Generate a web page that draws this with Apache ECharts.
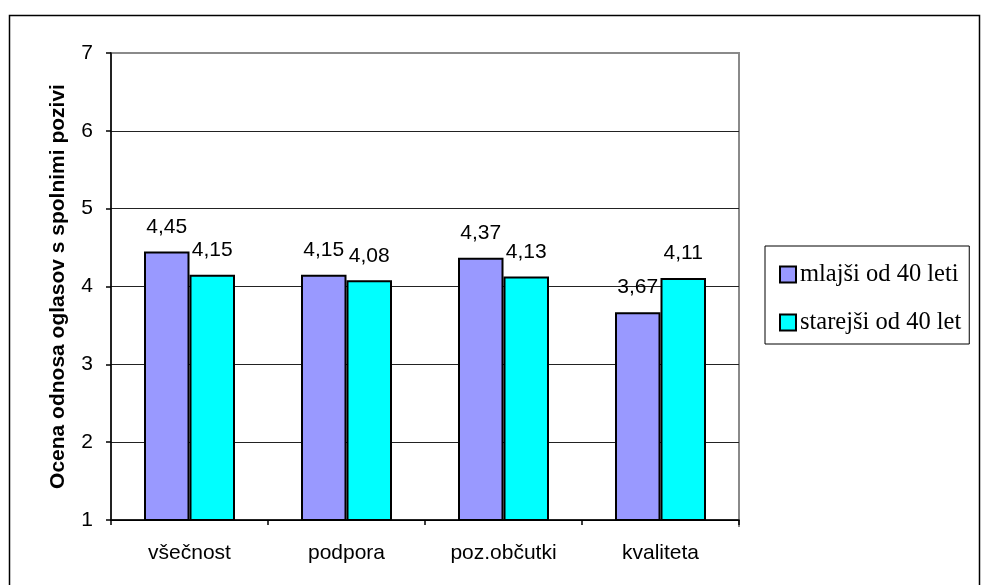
<!DOCTYPE html>
<html>
<head>
<meta charset="utf-8">
<script src="https://cdn.jsdelivr.net/npm/echarts@6/dist/echarts.min.js"></script>
<style>
  html, body { margin: 0; padding: 0; background: #fff; }
  #chart { width: 981px; height: 585px; }
</style>
</head>
<body>
<div id="chart"></div>
<script>
// Categories and series values
const categories = ['všečnost', 'podpora', 'poz.občutki', 'kvaliteta'];
const seriesNames = ['mlajši od 40 leti', 'starejši od 40 let'];
const younger = [4.45, 4.15, 4.37, 3.67];
const older = [4.15, 4.08, 4.13, 4.11];
const yTicks = [1, 2, 3, 4, 5, 6, 7];
const yTitle = 'Ocena odnosa oglasov s spolnimi pozivi';

const sans = 'Liberation Sans, Arial, sans-serif';
const serif = 'Liberation Serif, Times New Roman, serif';

const chart = echarts.init(document.getElementById('chart'), null, { renderer: 'canvas' });

const barLabel = {
  show: true,
  position: 'top',
  distance: 14,
  color: '#000',
  fontFamily: sans,
  fontSize: 21,
  formatter: p => p.value.toFixed(2).replace('.', ',')
};

chart.setOption({
  animation: false,
  backgroundColor: '#fff',
  graphic: [{
    type: 'rect',
    shape: { x: 9.5, y: 15.5, width: 970, height: 600 },
    style: { fill: 'none', stroke: '#000', lineWidth: 1.5 },
    silent: true,
    z: -10
  }, {
    type: 'line',
    shape: { x1: 739, y1: 53, x2: 739, y2: 527 },
    style: { stroke: '#8a8a8a', lineWidth: 2 },
    silent: true
  }],
  grid: {
    left: 111, top: 53, right: 242, bottom: 65,
    show: true, borderColor: '#8a8a8a', borderWidth: 2,
    containLabel: false
  },
  legend: {
    data: seriesNames,
    orient: 'vertical',
    left: 765,
    top: 246,
    backgroundColor: '#fff',
    borderColor: '#000',
    borderWidth: 1,
    borderRadius: 0,
    padding: [16, 8, 9, 14],
    itemGap: 23,
    itemWidth: 16,
    itemHeight: 16,
    icon: 'rect',
    textStyle: { fontFamily: serif, fontSize: 24.5, color: '#000', padding: [0, 0, 0, -1] }
  },
  xAxis: {
    type: 'category',
    data: categories,
    axisLine: { lineStyle: { color: '#000', width: 1.5 } },
    axisTick: { show: true, length: 5, lineStyle: { color: '#000', width: 1.5 } },
    axisLabel: { color: '#000', fontFamily: sans, fontSize: 21, margin: 23 },
    splitLine: { show: false }
  },
  yAxis: {
    type: 'value',
    min: 1, max: 7, interval: 1,
    name: yTitle,
    nameLocation: 'middle',
    nameGap: 42,
    nameRotate: 90,
    nameTextStyle: { fontFamily: sans, fontSize: 21, fontWeight: 'bold', color: '#000' },
    axisLine: { show: true, lineStyle: { color: '#000', width: 1.5 } },
    axisTick: { show: true, length: 5, lineStyle: { color: '#000', width: 1.5 } },
    axisLabel: {
      color: '#000', fontFamily: sans, fontSize: 21, margin: 18,
      formatter: v => (yTicks.includes(v) ? String(v) : '')
    },
    splitLine: {
      show: true,
      lineStyle: { color: ['#000', '#222', '#222', '#222', '#222', '#222', '#8a8a8a'], width: 1.2 }
    }
  },
  series: [{
    name: seriesNames[0],
    type: 'bar',
    data: younger,
    barWidth: 45.5,
    barGap: '0%',
    itemStyle: { color: '#9999FF', borderColor: '#000', borderWidth: 2 },
    label: barLabel
  }, {
    name: seriesNames[1],
    type: 'bar',
    data: older,
    barWidth: 45.5,
    itemStyle: { color: '#00FFFF', borderColor: '#000', borderWidth: 2 },
    label: barLabel
  }]
});
</script>
</body>
</html>
